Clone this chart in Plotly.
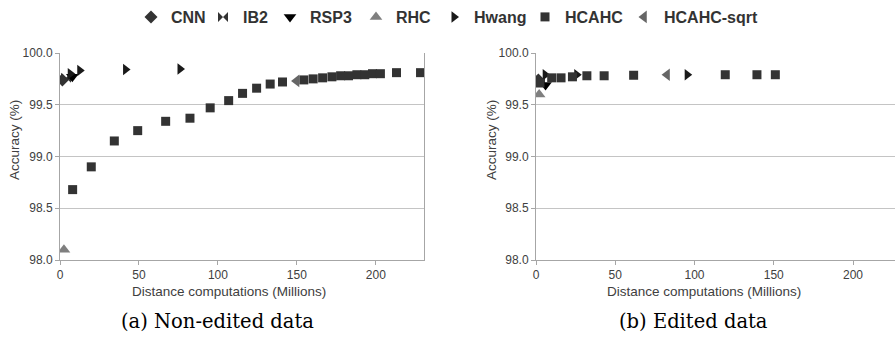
import plotly.graph_objects as go

# ---------------- data ----------------
# (a) Non-edited data
cnn_a_x, cnn_a_y = [1.5], [99.74]
ib2_a_x, ib2_a_y = [3.8], [99.76]
rsp3_a_x, rsp3_a_y = [7.8], [99.77]
rhc_a_x, rhc_a_y = [2.5], [98.10]
hwang_a_x = [6.5, 12.5, 41.5, 76.0]
hwang_a_y = [99.80, 99.83, 99.84, 99.845]
hcahc_a_x = [8.0, 19.8, 34.4, 49.2, 66.9, 82.3, 95.1, 106.8, 115.6, 124.5, 133.1, 140.9,
             154.4, 160.3, 166.3, 172.2, 177.7, 182.7, 188.0, 193.0, 197.9, 202.9, 213.1, 228.3]
hcahc_a_y = [98.68, 98.90, 99.15, 99.25, 99.34, 99.37, 99.47, 99.54, 99.61, 99.66, 99.70, 99.72,
             99.74, 99.75, 99.76, 99.77, 99.78, 99.78, 99.79, 99.79, 99.80, 99.80, 99.81, 99.81]
sqrt_a_x, sqrt_a_y = [149.8], [99.73]

# (b) Edited data
cnn_b_x, cnn_b_y = [1.5], [99.74]
ib2_b_x, ib2_b_y = [2.5], [99.73]
rsp3_b_x, rsp3_b_y = [6.0], [99.69]
rhc_b_x, rhc_b_y = [2.0], [99.60]
hwang_b_x = [5.8, 25.7, 95.4]
hwang_b_y = [99.79, 99.79, 99.79]
hcahc_b_x = [2.5, 9.9, 15.8, 23.0, 32.1, 43.0, 61.6, 119.4, 139.4, 151.0]
hcahc_b_y = [99.71, 99.76, 99.76, 99.77, 99.78, 99.78, 99.785, 99.79, 99.79, 99.79]
sqrt_b_x, sqrt_b_y = [82.7], [99.79]

y_ticks = [98.0, 98.5, 99.0, 99.5, 100.0]
x_ticks = [0, 50, 100, 150, 200]

series_names = ["CNN", "IB2", "RSP3", "RHC", "Hwang", "HCAHC", "HCAHC-sqrt"]
symbols = ["diamond", "bowtie", "triangle-down", "triangle-up", "triangle-right", "square", "triangle-left"]
colors = ["#333333", "#333333", "#000000", "#7f7f7f", "#1a1a1a", "#333333", "#666666"]
sizes = [10, 10, 11, 11, 10, 9, 11]
legend_text_start = [169, 241, 308, 394, 472, 563, 662]  # px

data_a = [(cnn_a_x, cnn_a_y), (ib2_a_x, ib2_a_y), (rsp3_a_x, rsp3_a_y), (rhc_a_x, rhc_a_y),
          (hwang_a_x, hwang_a_y), (hcahc_a_x, hcahc_a_y), (sqrt_a_x, sqrt_a_y)]
data_b = [(cnn_b_x, cnn_b_y), (ib2_b_x, ib2_b_y), (rsp3_b_x, rsp3_b_y), (rhc_b_x, rhc_b_y),
          (hwang_b_x, hwang_b_y), (hcahc_b_x, hcahc_b_y), (sqrt_b_x, sqrt_b_y)]

W, H = 895, 338
fig = go.Figure()

for i, name in enumerate(series_names):
    leg = "legend" if i == 0 else f"legend{i+1}"
    mk = dict(symbol=symbols[i], color=colors[i], size=sizes[i], line=dict(width=0))
    fig.add_trace(go.Scatter(x=data_a[i][0], y=data_a[i][1], mode="markers", name=name,
                             marker=mk, xaxis="x", yaxis="y", legend=leg,
                             legendgroup=name, showlegend=True))
    fig.add_trace(go.Scatter(x=data_b[i][0], y=data_b[i][1], mode="markers", name=name,
                             marker=mk, xaxis="x2", yaxis="y2", legend=leg,
                             legendgroup=name, showlegend=False))

font_ax = dict(family="Liberation Sans, Arial, sans-serif", size=12, color="#404040")
grid_c = "#c4c4c4"
line_c = "#a6a6a6"

ycommon = dict(range=[98.0, 100.0], tickvals=y_ticks, tickformat=".1f", showgrid=True,
               gridcolor=grid_c, gridwidth=1, showline=True, linecolor=line_c, linewidth=1,
               ticks="outside", ticklen=4, tickcolor=line_c, tickfont=font_ax,
               zeroline=False, automargin=False, fixedrange=True)
xcommon = dict(tickvals=x_ticks, showgrid=False, showline=True, linecolor=line_c, linewidth=1,
               ticks="outside", ticklen=4, tickcolor=line_c, tickfont=font_ax,
               zeroline=False, automargin=False, fixedrange=True)

y0 = (H - 260) / H
y1 = (H - 53) / H

layout = dict(
    width=W, height=H, margin=dict(l=0, r=0, t=0, b=0),
    paper_bgcolor="white", plot_bgcolor="white",
    xaxis=dict(domain=[60 / W, 424 / W], range=[0, 230.5], anchor="y", **xcommon),
    yaxis=dict(domain=[y0, y1], anchor="x", mirror=True, **ycommon),
    xaxis2=dict(domain=[536 / W, 1.0], range=[0, 226.5], anchor="y2", **xcommon),
    yaxis2=dict(domain=[y0, y1], anchor="x2", **ycommon),
    showlegend=True,
)

leg_font = dict(family="Liberation Sans, Arial, sans-serif", size=16, color="#333333",
                weight="bold")
for i, name in enumerate(series_names):
    key = "legend" if i == 0 else f"legend{i+1}"
    layout[key] = dict(x=(legend_text_start[i] - 38) / W, xanchor="left",
                       y=1 - 17 / H, yanchor="middle", orientation="h",
                       bgcolor="rgba(0,0,0,0)", borderwidth=0, font=leg_font,
                       itemclick=False, itemdoubleclick=False)

fig.update_layout(**layout)

title_font = dict(family="Liberation Sans, Arial, sans-serif", size=13.5, color="#404040")
cap_font = dict(family="DejaVu Serif, serif", size=19.5, color="#000000")
annots = [
    dict(text="Distance computations (Millions)", x=229 / W, y=1 - 291 / H, font=title_font),
    dict(text="Distance computations (Millions)", x=704 / W, y=1 - 291 / H, font=title_font),
    dict(text="Accuracy (%)", x=14 / W, y=1 - 140 / H, textangle=-90, font=title_font),
    dict(text="Accuracy (%)", x=491 / W, y=1 - 140 / H, textangle=-90, font=title_font),
    dict(text="(a) Non-edited data", x=217 / W, y=1 - 321 / H, font=cap_font),
    dict(text="(b) Edited data", x=693 / W, y=1 - 321 / H, font=cap_font),
]
for a in annots:
    fig.add_annotation(xref="paper", yref="paper", xanchor="center", yanchor="middle",
                       showarrow=False, **a)

fig.write_html("out.html")
